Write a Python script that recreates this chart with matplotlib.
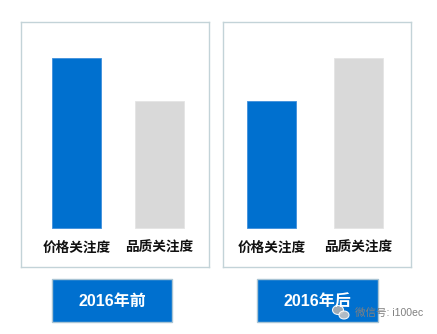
import matplotlib
matplotlib.use("Agg")
import matplotlib.pyplot as plt
from matplotlib.patches import Rectangle, Ellipse

plt.rcParams['font.family'] = ['Liberation Sans', 'Noto Sans CJK SC', 'DejaVu Sans']

categories = ['价格关注度', '品质关注度']
before = [100, 75]   # 2016年前
after = [75, 100]    # 2016年后
panel_titles = ['2016年前', '2016年后']

blue = '#0070cf'
grey = '#d9d9d9'
frame = '#c3d3d8'

W, H = 437, 334
fig = plt.figure(figsize=(W / 100, H / 100), dpi=100)

def fx(px):
    return px / W

def fy(py):
    return 1 - py / H

panels = [
    # left px, xlim, bar width
    (21, (-0.669, 1.596), 0.60, before),
    (223, (-0.557, 1.603), 0.56, after),
]

for i, (left, xl, bw, vals) in enumerate(panels):
    ax = fig.add_axes([fx(left), fy(267), 188 / W, 245 / H])
    ax.bar(range(len(categories)), vals, width=bw, color=[blue, grey],
           edgecolor=['#3f8fdc', '#e4e4e4'], linewidth=0.6)
    ax.set_xlim(*xl)
    ax.set_ylim(-22.9, 121.2)
    ax.set_xticks([])
    ax.set_yticks([])
    for s in ax.spines.values():
        s.set_color(frame)
        s.set_linewidth(1.0)
    for j, c in enumerate(categories):
        ax.text(j, -11.8, c, ha='center', va='center', fontsize=9.8,
                fontweight='bold', color='#111111')

# year boxes under the panels
boxes = [(52, 172), (257, 378)]
for (x0, x1), t in zip(boxes, panel_titles):
    fig.patches.append(Rectangle((fx(x0), fy(322)), (x1 - x0) / W, 43 / H,
                                 transform=fig.transFigure, facecolor=blue,
                                 edgecolor='#a9c4d4', linewidth=1.0))
    fig.text(fx((x0 + x1) / 2), fy(301), t, ha='center', va='center',
             color='white', fontsize=11.5, fontweight='bold')

# watermark
fig.patches.append(Ellipse((fx(338), fy(310)), 11 / W, 9 / H,
                           transform=fig.transFigure, facecolor='#b0b0b0',
                           edgecolor='white', linewidth=0.8, alpha=0.9))
fig.patches.append(Ellipse((fx(344), fy(315)), 10 / W, 8 / H,
                           transform=fig.transFigure, facecolor='#c4c4c4',
                           edgecolor='white', linewidth=0.8, alpha=0.9))
fig.text(fx(355), fy(313), '微信号: i100ec', ha='left', va='center',
         color='#808080', fontsize=7.6)

fig.savefig('out.png', dpi=100)
